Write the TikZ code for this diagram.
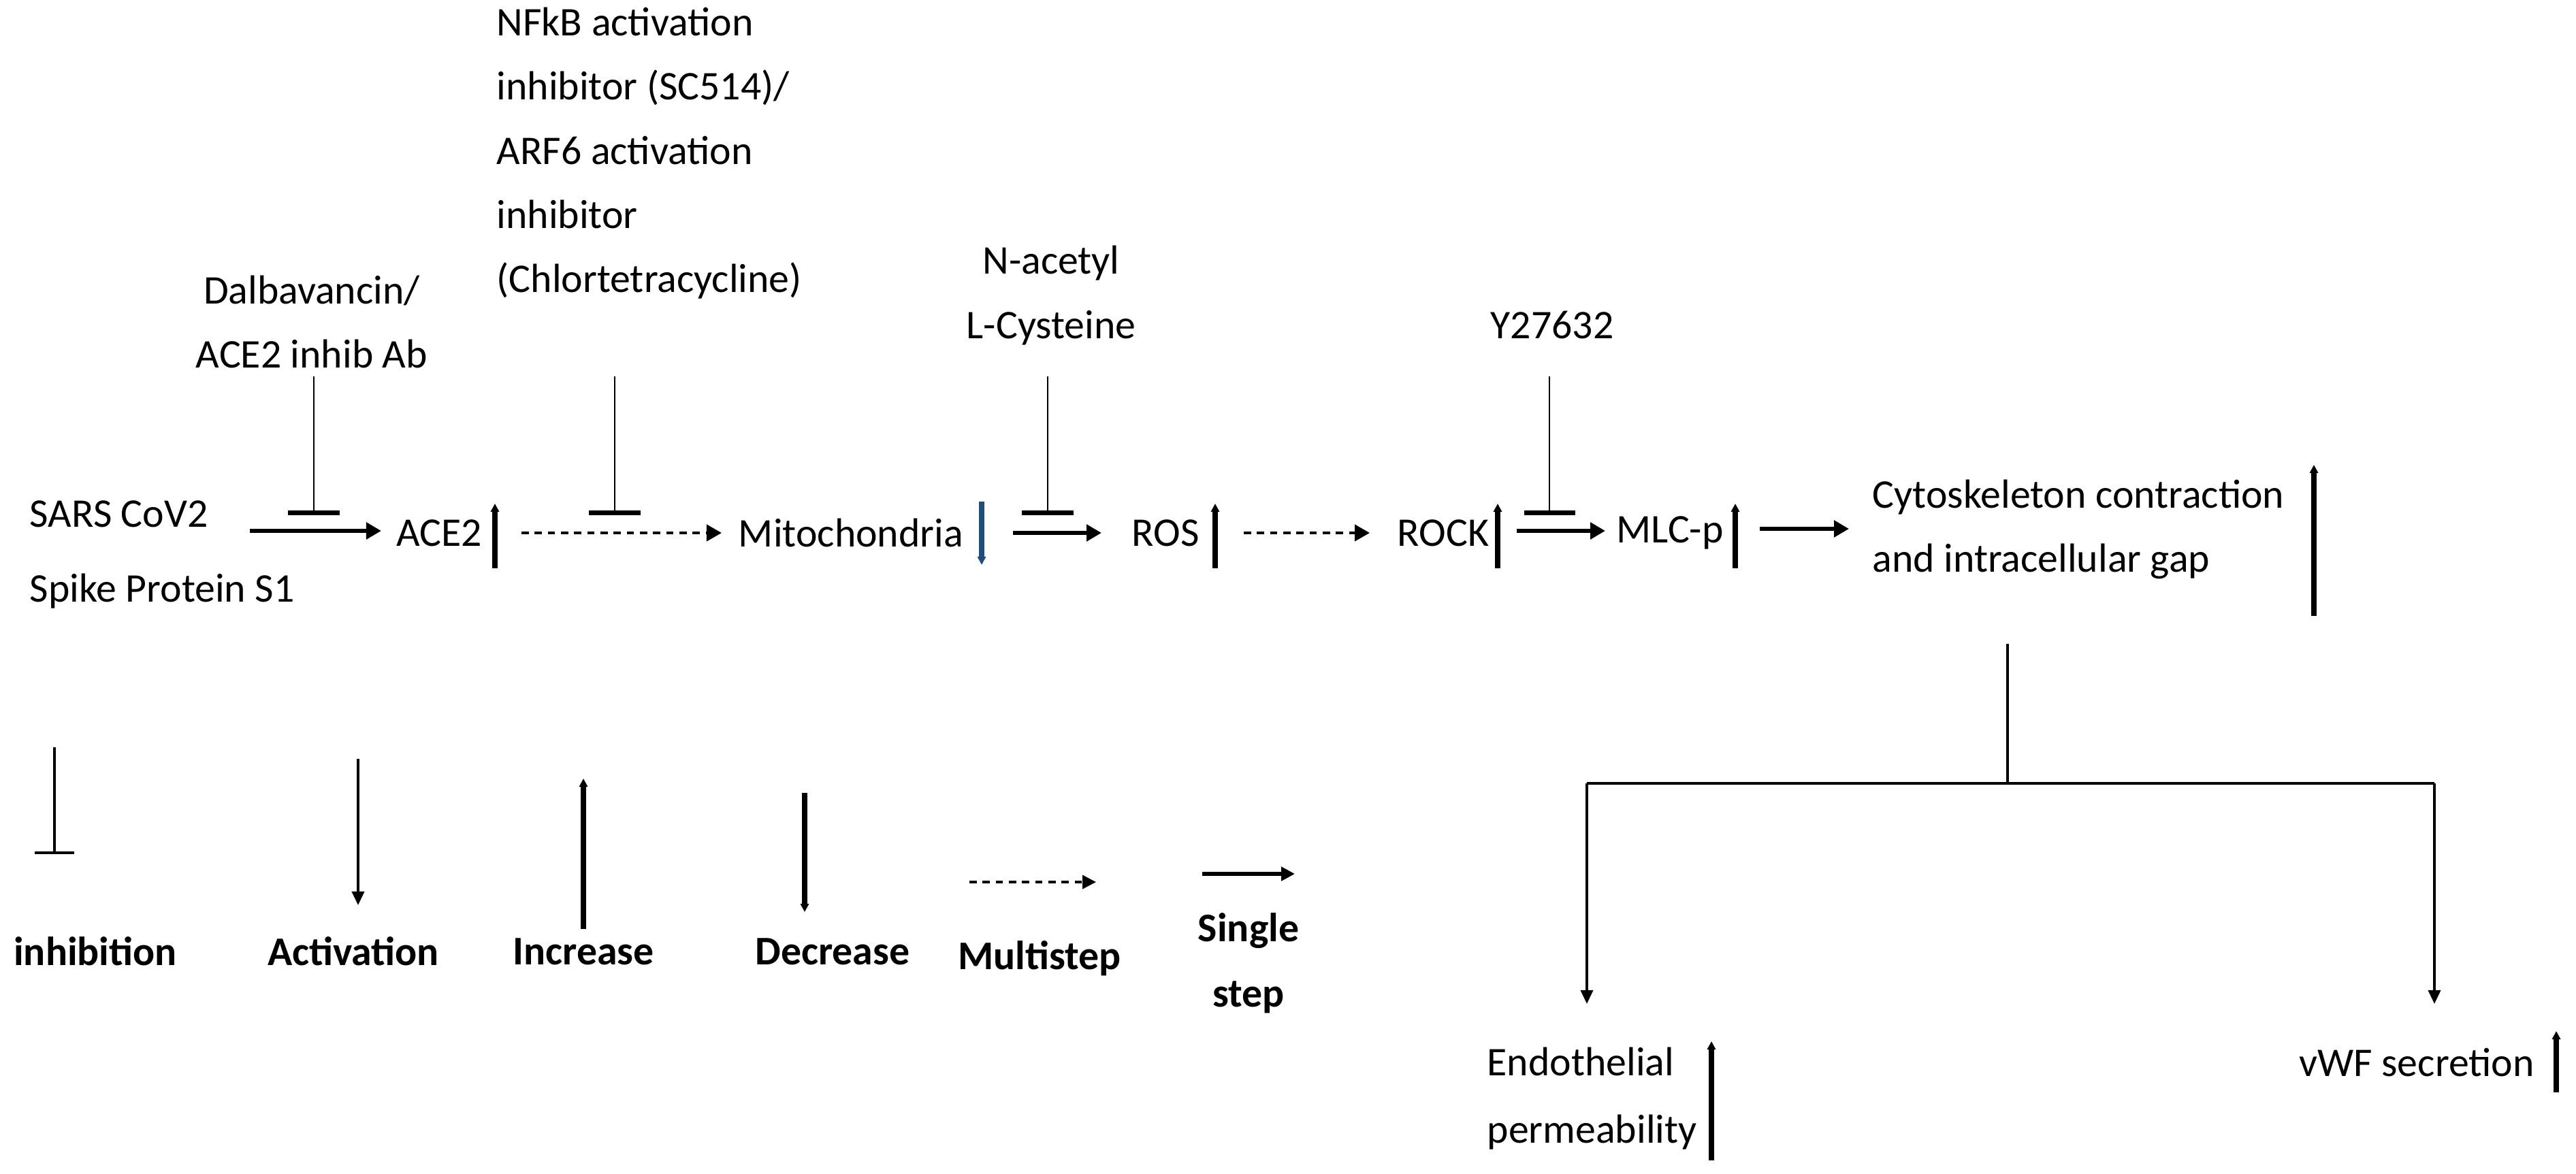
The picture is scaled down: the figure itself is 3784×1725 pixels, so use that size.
\documentclass[tikz,border=0pt]{standalone}
\usepackage{fontspec}
\setmainfont{Carlito}
\usetikzlibrary{arrows.meta}
\begin{document}
\begin{tikzpicture}[x=0.01cm,y=-0.01cm,
  txt/.style={font=\fontsize{17}{24}\selectfont,inner sep=0pt},
  lg/.style={font=\fontsize{17}{24}\selectfont\bfseries,inner sep=0pt},
  act/.style={line width=1.8pt,-{Triangle[length=0.22cm,width=0.24cm]}},
  multi/.style={line width=1.2pt,dash pattern=on 3pt off 2.5pt,-{Triangle[length=0.22cm,width=0.24cm]}},
  inh/.style={line width=0.8pt,-{Bar[width=0.75cm,line width=2pt]}},
  thin/.style={line width=1pt,-{Triangle[length=0.2cm,width=0.18cm]}},
  up/.style={line width=2.4pt,-{Triangle[length=0.12cm,width=0.12cm]}}]
\useasboundingbox (0,0) rectangle (3784,1725);
% main chain texts
\node[txt,anchor=west,align=left] (sars) at (43,815) {SARS CoV2\\[0.25cm]Spike Protein S1};
\node[txt] (ace2) at (645,783) {ACE2};
\node[txt] (mito) at (1250,783) {Mitochondria};
\node[txt] (ros) at (1712,783) {ROS};
\node[txt] (rock) at (2120,783) {ROCK};
\node[txt] (mlc) at (2453,783) {MLC-p};
\node[txt,anchor=west,align=left] (cyto) at (2750,778) {Cytoskeleton contraction\\[0.1cm]and intracellular gap};
% inhibitors
\node[txt,align=center] (dal) at (458,473) {Dalbavancin/\\[0.1cm]ACE2 inhib Ab};
\node[txt,align=left,anchor=north west] (nfkb) at (729,10) {NFkB activation\\[0.1cm]inhibitor (SC514)/\\[0.1cm]ARF6 activation\\[0.1cm]inhibitor\\[0.1cm](Chlortetracycline)};
\node[txt,align=center] (nac) at (1544,434) {N-acetyl\\[0.1cm]L-Cysteine};
\node[txt] (y27) at (2280,478) {Y27632};
% chain arrows
\coordinate (a1s) at (367,780); \coordinate (a1e) at (560,780);
\draw[act] (a1s) -- (a1e);
\coordinate (a2s) at (766,783); \coordinate (a2e) at (1060,783);
\draw[multi] (a2s) -- (a2e);
\coordinate (a3s) at (1488,783); \coordinate (a3e) at (1618,783);
\draw[act] (a3s) -- (a3e);
\coordinate (a4s) at (1827,783); \coordinate (a4e) at (2012,783);
\draw[multi] (a4s) -- (a4e);
\coordinate (a5s) at (2228,780); \coordinate (a5e) at (2358,780);
\draw[act] (a5s) -- (a5e);
\coordinate (a6s) at (2585,777); \coordinate (a6e) at (2716,777);
\draw[act] (a6s) -- (a6e);
% inhibitor lines
\coordinate (i1t) at (461,553); \coordinate (i1b) at (461,757);
\coordinate (i2t) at (903,553); \coordinate (i2b) at (903,757);
\coordinate (i3t) at (1539,553); \coordinate (i3b) at (1539,757);
\coordinate (i4t) at (2276,553); \coordinate (i4b) at (2276,757);
\foreach \i in {1,2,3,4} \draw[inh] (i\i t) -- (i\i b);
% up/down indicators
\coordinate (u1b) at (727,835); \coordinate (u1t) at (727,740);
\draw[up] (u1b) -- (u1t);
\coordinate (d1t) at (1442,737); \coordinate (d1b) at (1442,830);
\draw[up,draw={rgb,255:red,31;green,78;blue,121},fill={rgb,255:red,31;green,78;blue,121}] (d1t) -- (d1b);
\coordinate (u2b) at (1785,835); \coordinate (u2t) at (1785,740);
\draw[up] (u2b) -- (u2t);
\coordinate (u3b) at (2200,835); \coordinate (u3t) at (2200,740);
\draw[up] (u3b) -- (u3t);
\coordinate (u4b) at (2549,835); \coordinate (u4t) at (2549,740);
\draw[up] (u4b) -- (u4t);
\coordinate (u5b) at (3399,905); \coordinate (u5t) at (3399,683);
\draw[up] (u5b) -- (u5t);
% branching
\coordinate (bt) at (2949,946); \coordinate (bm) at (2949,1151);
\coordinate (bl) at (2331,1151); \coordinate (br) at (3576,1151);
\node[txt,align=left,anchor=west] (endo) at (2184,1614) {Endothelial\\[0.15cm]permeability};
\node[txt] (vwf) at (3550,1561) {vWF secretion};
\coordinate (el) at (2331,1475); \coordinate (er) at (3576,1475);
\draw[line width=1pt] (bt) -- (bm);
\draw[line width=1pt] (bl) -- (br);
\draw[thin] (bl) -- (el);
\draw[thin] (br) -- (er);
\coordinate (u6b) at (2514,1705); \coordinate (u6t) at (2514,1530);
\draw[up] (u6b) -- (u6t);
\coordinate (u7b) at (3755,1605); \coordinate (u7t) at (3755,1515);
\draw[up] (u7b) -- (u7t);
% legend
\coordinate (l1t) at (80,1098); \coordinate (l1b) at (80,1255);
\draw[line width=1pt,-{Bar[width=0.58cm,line width=1pt]}] (l1t) -- (l1b);
\node[lg] (linh) at (140,1398) {inhibition};
\coordinate (l2t) at (526,1115); \coordinate (l2b) at (526,1330);
\draw[thin] (l2t) -- (l2b);
\node[lg] (lact) at (519,1398) {Activation};
\coordinate (l3b) at (857,1365); \coordinate (l3t) at (857,1144);
\draw[up] (l3b) -- (l3t);
\node[lg] (linc) at (857,1398) {Increase};
\coordinate (l4t) at (1182,1165); \coordinate (l4b) at (1182,1340);
\draw[up] (l4t) -- (l4b);
\node[lg] (ldec) at (1223,1398) {Decrease};
\coordinate (l5s) at (1424,1296); \coordinate (l5e) at (1610,1296);
\draw[line width=1pt,dash pattern=on 3pt off 2.5pt,-{Triangle[length=0.2cm,width=0.2cm]}] (l5s) -- (l5e);
\node[lg] (lmul) at (1527,1408) {Multistep};
\coordinate (l6s) at (1766,1284); \coordinate (l6e) at (1902,1284);
\draw[line width=1.6pt,-{Triangle[length=0.2cm,width=0.2cm]}] (l6s) -- (l6e);
\node[lg,align=center] (lsin) at (1834,1415) {Single\\[0.12cm]step};
\end{tikzpicture}
\end{document}
